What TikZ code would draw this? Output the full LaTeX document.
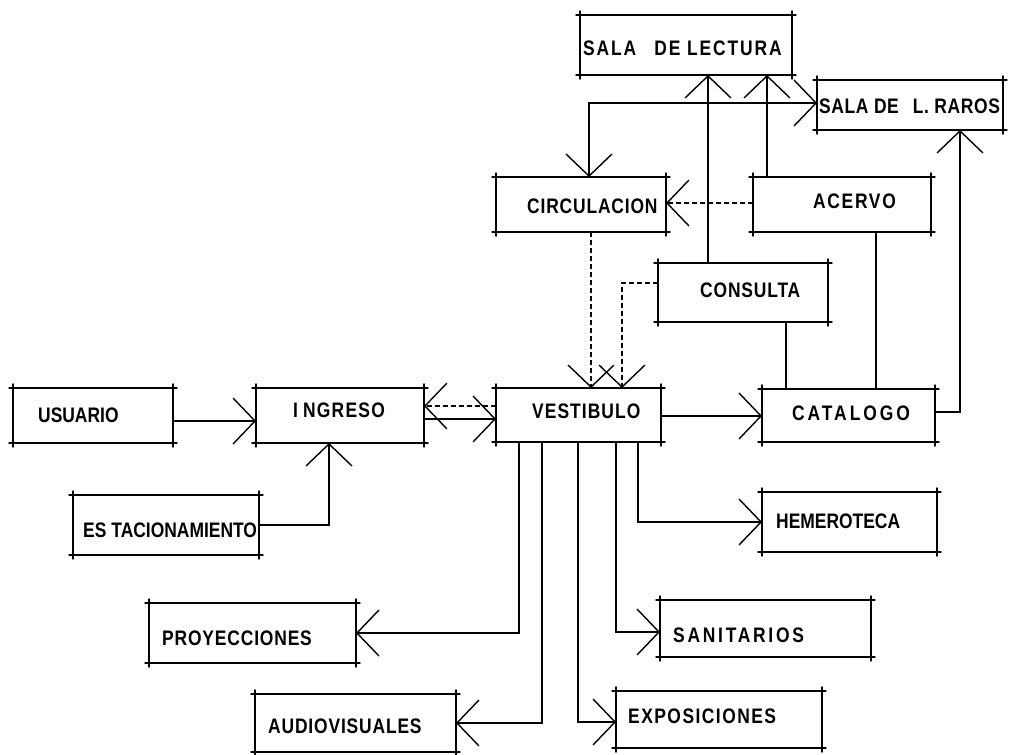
\documentclass[tikz,border=0pt]{standalone}
\usepackage{fontspec}
\newfontfamily\lett{Liberation Sans}[FakeStretch=0.83]
\usetikzlibrary{arrows.meta,fit}
\newcommand\ls[2]{{\addfontfeature{LetterSpace=#1}#2}}
\newcommand\roughbox[1]{%
  \draw[boxline] ([xshift=-4pt]#1.north west) -- ([xshift=4pt]#1.north east)
                 ([xshift=-4pt]#1.south west) -- ([xshift=4pt]#1.south east)
                 ([yshift=4pt]#1.north west) -- ([yshift=-4pt]#1.south west)
                 ([yshift=4pt]#1.north east) -- ([yshift=-4pt]#1.south east);}
\tikzset{
  bx/.style={inner sep=0pt, outer sep=0pt, draw=none},
  boxline/.style={line width=1.4pt, line cap=round},
  lbl/.style={font=\lett\bfseries\fontsize{21}{24}\selectfont, inner sep=0pt, anchor=base west},
  conn/.style={line width=1.4pt},
  tip/.tip={Straight Barb[length=22pt,width=46pt]},
  arr/.style={conn, -tip},
  dsh/.style={dash pattern=on 5pt off 3pt},
}
\begin{document}
\begin{tikzpicture}[x=1pt,y=-1pt]
\fill[white] (0,0) rectangle (1013,755);
\useasboundingbox (0,0) rectangle (1013,755);
% boxes
\node[bx, fit={(580,15) (792,75)}] (lectura) {};
\node[bx, fit={(817,80) (1003,130)}] (raros) {};
\node[bx, fit={(496,177) (666,232)}] (circ) {};
\node[bx, fit={(753,177) (931,232)}] (acervo) {};
\node[bx, fit={(658,263) (828,322)}] (consulta) {};
\node[bx, fit={(496,388) (661,442)}] (vest) {};
\node[bx, fit={(762,389) (935,442)}] (cat) {};
\node[bx, fit={(13,388) (173,443)}] (usuario) {};
\node[bx, fit={(256,388) (424,443)}] (ingreso) {};
\node[bx, fit={(73,495) (259,555)}] (estac) {};
\node[bx, fit={(762,492) (937,552)}] (hemero) {};
\node[bx, fit={(149,603) (356,663)}] (proy) {};
\node[bx, fit={(255,694) (456,752)}] (audio) {};
\node[bx, fit={(660,600) (871,657)}] (sanit) {};
\node[bx, fit={(616,691) (822,748)}] (expo) {};
\foreach \n in {lectura,raros,circ,acervo,consulta,vest,cat,usuario,ingreso,estac,hemero,proy,audio,sanit,expo}{\roughbox{\n}}
% labels
\node[lbl] (t-lectura) at (583,55) {\ls{9}{SALA}\kern18pt\ls{9}{DE LECTURA}};
\node[lbl] (t-raros) at (819,113) {\ls{3}{SALA DE}\kern14pt\ls{3}{L. RAROS}};
\node[lbl] (t-circ) at (527,213) {\ls{4}{CIRCULACION}};
\node[lbl] (t-acervo) at (813,208) {\ls{8}{ACERVO}};
\node[lbl] (t-consulta) at (700,297) {\ls{4}{CONSULTA}};
\node[lbl] (t-vest) at (532,418) {\ls{5}{VESTIBULO}};
\node[lbl] (t-cat) at (792,420) {\ls{14}{CATALOGO}};
\node[lbl] (t-usuario) at (38,422) {USUARIO};
\node[lbl] (t-ingreso) at (293,417) {\ls{6}{I}\kern5pt\ls{6}{NGRESO}};
\node[lbl] (t-estac) at (83,537) {ES\kern5pt TACIONAMIENTO};
\node[lbl] (t-hemero) at (776,528) {HEMEROTECA};
\node[lbl] (t-proy) at (162,645) {\ls{4}{PROYECCIONES}};
\node[lbl] (t-audio) at (268,733) {\ls{4}{AUDIOVISUALES}};
\node[lbl] (t-sanit) at (673,642) {\ls{13}{SANITARIOS}};
\node[lbl] (t-expo) at (628,723) {\ls{7}{EXPOSICIONES}};
% connectors
\draw[arr] (usuario.east |- 0,421) -- (ingreso.west |- 0,421);
\draw[arr] (estac.east |- 0,525) -| (ingreso.south -| 329,0);
\draw[arr] (ingreso.east |- 0,419) -- (vest.west |- 0,419);
\draw[arr,dsh] (vest.west |- 0,406) -- (ingreso.east |- 0,406);
\draw[arr] (vest.east |- 0,416) -- (cat.west |- 0,416);
\draw[arr] (cat.east |- 0,412) -| (raros.south -| 960,0);
\draw[conn] (acervo.south -| 876,0) -- (cat.north -| 876,0);
\draw[conn] (consulta.south -| 786,0) -- (cat.north -| 786,0);
\draw[arr] (consulta.north -| 708,0) -- (lectura.south -| 708,0);
\draw[arr] (acervo.north -| 767,0) -- (lectura.south -| 767,0);
\draw[arr,dsh] (acervo.west |- 0,203) -- (circ.east |- 0,203);
\draw[conn,tip-tip] (circ.north -| 589,0) |- (raros.west |- 0,103);
\draw[arr,dsh] (circ.south -| 591,0) -- (vest.north -| 591,0);
\draw[arr,dsh] (consulta.west |- 0,283) -| (vest.north -| 622,0);
\draw[arr] (vest.south -| 519,0) |- (proy.east |- 0,633);
\draw[arr] (vest.south -| 542,0) |- (audio.east |- 0,723);
\draw[arr] (vest.south -| 578,0) |- (expo.west |- 0,722);
\draw[arr] (vest.south -| 616,0) |- (sanit.west |- 0,632);
\draw[arr] (vest.south -| 638,0) |- (hemero.west |- 0,522);
\end{tikzpicture}
\end{document}
